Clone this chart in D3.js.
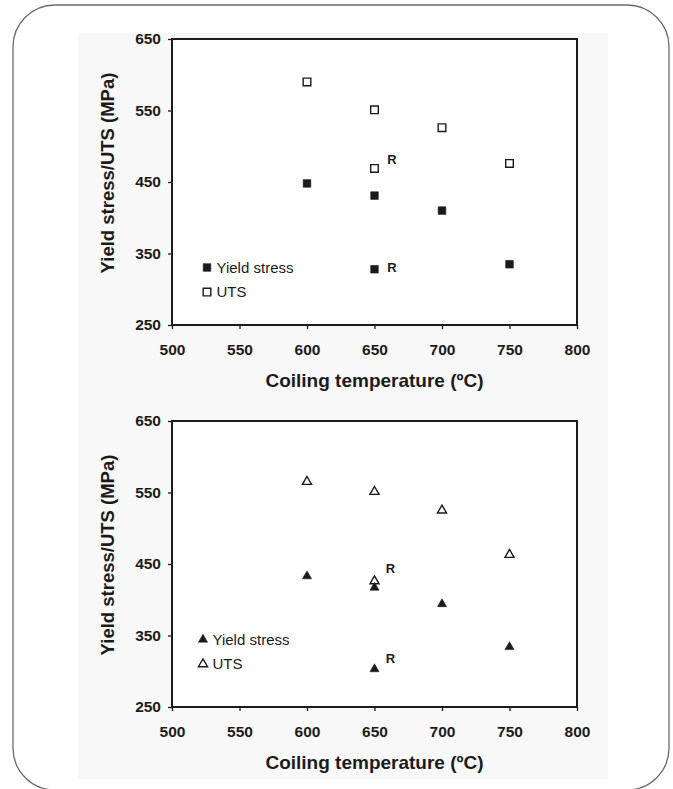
<!DOCTYPE html>
<html>
<head>
<meta charset="utf-8">
<script src="https://cdn.jsdelivr.net/npm/d3@7"></script>
<style>
  html, body { margin: 0; padding: 0; background: #ffffff; }
  svg { display: block; }
</style>
</head>
<body>
<svg id="chart" width="673" height="789"></svg>
<script>
// ---------- data ----------
const xTicks = [500, 550, 600, 650, 700, 750, 800];
const yTicks = [250, 350, 450, 550, 650];
const temps = [600, 650, 700, 750];

// Panel 1 (squares)
const yieldA = [448, 431, 410, 335];
const utsA = [590, 551, 526, 476];
const rTempA = 650;
const yieldA_R = 328;
const utsA_R = 469;

// Panel 2 (triangles)
const yieldB = [433, 417, 394, 334];
const utsB = [565, 551, 525, 463];
const rTempB = 650;
const yieldB_R = 303;
const utsB_R = 426;

const legendLabels = ["Yield stress", "UTS"];
const xTitle = "Coiling temperature (\u00BAC)";
const yTitle = "Yield stress/UTS (MPa)";

// ---------- drawing ----------
const svg = d3.select("#chart");
const ink = "#1b1b1b";
const font = "'Liberation Sans', Arial, sans-serif";

// outer rounded frame & faint figure background
svg.append("rect").attr("x", 13).attr("y", 5).attr("width", 656).attr("height", 785)
  .attr("rx", 42).attr("ry", 42).attr("fill", "#ffffff").attr("stroke", "#6a6a6a").attr("stroke-width", 1.3);
svg.append("rect").attr("x", 78).attr("y", 33).attr("width", 530).attr("height", 746)
  .attr("fill", "#f8f8f8");

function panel(opts) {
  const { top, bottom, left, right, shape, yieldV, utsV, rTemp, yieldR, utsR, legendX, legendY, rOffsets } = opts;
  const x = d3.scaleLinear().domain([500, 800]).range([left, right]);
  const y = d3.scaleLinear().domain([250, 650]).range([bottom, top]);
  const g = svg.append("g");

  // plot area background
  g.append("rect").attr("x", left).attr("y", top).attr("width", right - left).attr("height", bottom - top)
    .attr("fill", "#ffffff");

  // axes
  const xAxis = d3.axisBottom(x).tickValues(xTicks).tickSize(4).tickSizeOuter(0).tickPadding(15).tickFormat(d3.format("d"));
  const yAxis = d3.axisLeft(y).tickValues(yTicks).tickSize(4).tickSizeOuter(0).tickPadding(7).tickFormat(d3.format("d"));
  const gx = g.append("g").attr("transform", `translate(0,${bottom})`).call(xAxis);
  const gy = g.append("g").attr("transform", `translate(${left},0)`).call(yAxis);
  [gx, gy].forEach(a => {
    a.select(".domain").remove();
    a.selectAll(".tick line").attr("stroke", ink).attr("stroke-width", 1.3);
    a.selectAll(".tick text").attr("fill", ink).style("font-family", font)
      .style("font-size", "15.5px").style("font-weight", "bold");
  });

  // plot frame
  g.append("rect").attr("x", left).attr("y", top).attr("width", right - left).attr("height", bottom - top)
    .attr("fill", "none").attr("stroke", ink).attr("stroke-width", 2);

  // titles
  g.append("text").attr("x", (left + right) / 2).attr("y", bottom + 62)
    .attr("text-anchor", "middle").attr("fill", ink)
    .style("font-family", font).style("font-size", "19px").style("font-weight", "bold")
    .text(xTitle);
  g.append("text").attr("transform", `translate(${left - 58},${(top + bottom) / 2 - 9}) rotate(-90)`)
    .attr("text-anchor", "middle").attr("fill", ink)
    .style("font-family", font).style("font-size", "18.5px").style("font-weight", "bold")
    .text(yTitle);

  const yieldPts = temps.map((t, i) => ({ t, v: yieldV[i] })).concat([{ t: rTemp, v: yieldR }]);
  const utsPts = temps.map((t, i) => ({ t, v: utsV[i] })).concat([{ t: rTemp, v: utsR }]);

  const sym = shape === "square" ? d3.symbolSquare : d3.symbolTriangle;
  const size = shape === "square" ? 58 : 36;

  function drawMarker(sel, filled) {
    sel.attr("d", d3.symbol().type(sym).size(size)())
      .attr("fill", filled ? ink : "#ffffff")
      .attr("stroke", ink).attr("stroke-width", filled ? 0.6 : 1.4);
  }

  g.selectAll(".uts").data(utsPts).join("path").attr("class", "uts")
    .attr("transform", d => `translate(${x(d.t)},${y(d.v)})`)
    .call(drawMarker, false);
  g.selectAll(".ys").data(yieldPts).join("path").attr("class", "ys")
    .attr("transform", d => `translate(${x(d.t)},${y(d.v)})`)
    .call(drawMarker, true);

  // R annotations
  const rLabels = [{ t: rTemp, v: utsR, o: rOffsets[0] }, { t: rTemp, v: yieldR, o: rOffsets[1] }];
  g.selectAll(".rlab").data(rLabels).join("text").attr("class", "rlab")
    .attr("x", d => x(d.t) + d.o[0]).attr("y", d => y(d.v) + d.o[1])
    .attr("text-anchor", "middle").attr("fill", ink)
    .style("font-family", font).style("font-size", "13px").style("font-weight", "bold")
    .text("R");

  // legend
  const lx = left + legendX, ly = top + legendY;
  legendLabels.forEach((lab, i) => {
    const cy = ly + i * 24.6;
    g.append("path").attr("transform", `translate(${lx},${cy})`).call(drawMarker, i === 0);
    g.append("text").attr("x", lx + 9.5).attr("y", cy + 5.3).attr("fill", ink)
      .style("font-family", font).style("font-size", "15px").text(lab);
  });
}

panel({ top: 39, bottom: 325, left: 172, right: 577, shape: "square",
  yieldV: yieldA, utsV: utsA, rTemp: rTempA, yieldR: yieldA_R, utsR: utsA_R,
  legendX: 35, legendY: 228.5, rOffsets: [[17.5, -4.3], [17.5, 3.1]] });

panel({ top: 421, bottom: 707, left: 172, right: 577, shape: "triangle",
  yieldV: yieldB, utsV: utsB, rTemp: rTempB, yieldR: yieldB_R, utsR: utsB_R,
  legendX: 31, legendY: 218.5, rOffsets: [[16, -7.7], [16, -6]] });
</script>
</body>
</html>
